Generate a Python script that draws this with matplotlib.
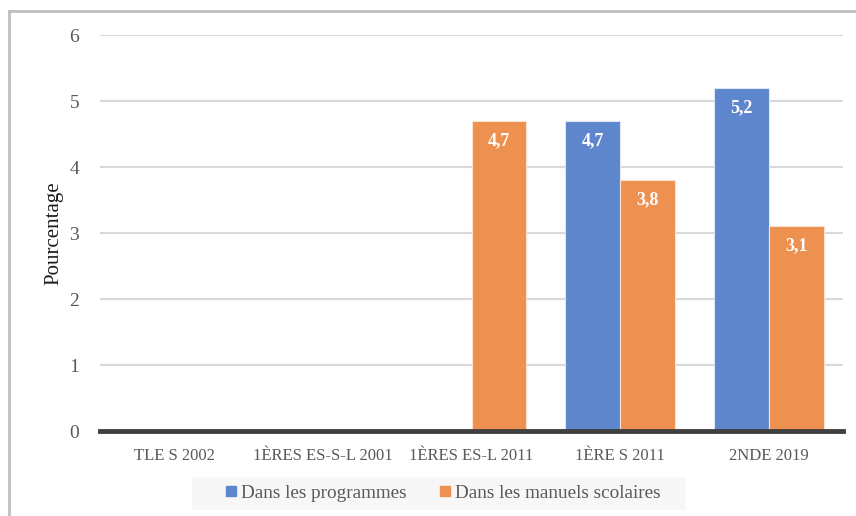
import matplotlib.pyplot as plt
import numpy as np
from matplotlib.lines import Line2D
from matplotlib.patches import Rectangle

categories = ['TLE S 2002', '1ÈRES ES-S-L 2001', '1ÈRES ES-L 2011', '1ÈRE S 2011', '2NDE 2019']
programmes = [np.nan, np.nan, np.nan, 4.7, 5.2]
manuels = [np.nan, np.nan, 4.7, 3.8, 3.1]
seriesNames = ['Dans les programmes', 'Dans les manuels scolaires']

blue = '#5D86CD'
orange = '#EE9050'
txtCol = '#595959'

plt.rcParams['font.family'] = ['Liberation Serif', 'DejaVu Serif']

fig = plt.figure(figsize=(8.56, 5.16), dpi=100)
ax = fig.add_axes([100/856, 85/516, 743/856, 396/516])

x = np.arange(len(categories))
w = 0.37
b1 = ax.bar(x - w/2, programmes, w, color=blue, edgecolor='#DCE6F5', linewidth=0.8, zorder=3)
b2 = ax.bar(x + w/2, manuels, w, color=orange, edgecolor='#FBE3D2', linewidth=0.8, zorder=3)

for bars, vals in [(b1, programmes), (b2, manuels)]:
    for rect, v in zip(bars, vals):
        if np.isnan(v):
            continue
        ax.text(rect.get_x() + rect.get_width()/2, v - 0.3, ('%.1f' % v).replace('.', ','),
                ha='center', va='center', color='white', fontsize=13, fontweight='bold', zorder=4)

ax.set_xlim(-0.5, len(categories) - 0.5)
ax.set_ylim(0, 6)
ax.set_yticks(range(0, 7))
ax.yaxis.grid(True, color='#D9D9D9', lw=1.5, zorder=0)
ax.set_axisbelow(True)
for s in ['top', 'right', 'left']:
    ax.spines[s].set_visible(False)
ax.spines['bottom'].set_color('#404040')
ax.spines['bottom'].set_linewidth(3.5)
ax.spines['bottom'].set_zorder(5)
ax.set_xticks(x)
ax.set_xticklabels(categories, fontsize=12, color=txtCol)
ax.tick_params(axis='x', length=0, pad=12)
ax.tick_params(axis='y', length=0, pad=15, labelsize=14, labelcolor=txtCol)
ax.set_ylabel('Pourcentage', fontsize=15, color='#1A1A1A', labelpad=4)

# legend background box
fig.add_artist(Rectangle((192/856, 1 - 510/516), 494/856, 33/516, transform=fig.transFigure,
                         facecolor='#F7F7F7', edgecolor='none', zorder=0))
handles = [Line2D([0], [0], marker='s', ls='none', color=blue, markersize=7),
           Line2D([0], [0], marker='s', ls='none', color=orange, markersize=7)]
leg = fig.legend(handles, seriesNames, loc='center', bbox_to_anchor=(442/856, 1 - 493/516), ncol=2,
                 fontsize=13.8, frameon=False,
                 handlelength=0.8, handletextpad=0.1, columnspacing=1.6, labelcolor=txtCol)

# outer frame
fig.add_artist(Line2D([9/856, 9/856], [0, 1 - 11/516], color='#BFBFBF', lw=2, transform=fig.transFigure))
fig.add_artist(Line2D([9/856, 1], [1 - 11/516, 1 - 11/516], color='#BFBFBF', lw=2, transform=fig.transFigure))

plt.savefig('out.png', dpi=100)
